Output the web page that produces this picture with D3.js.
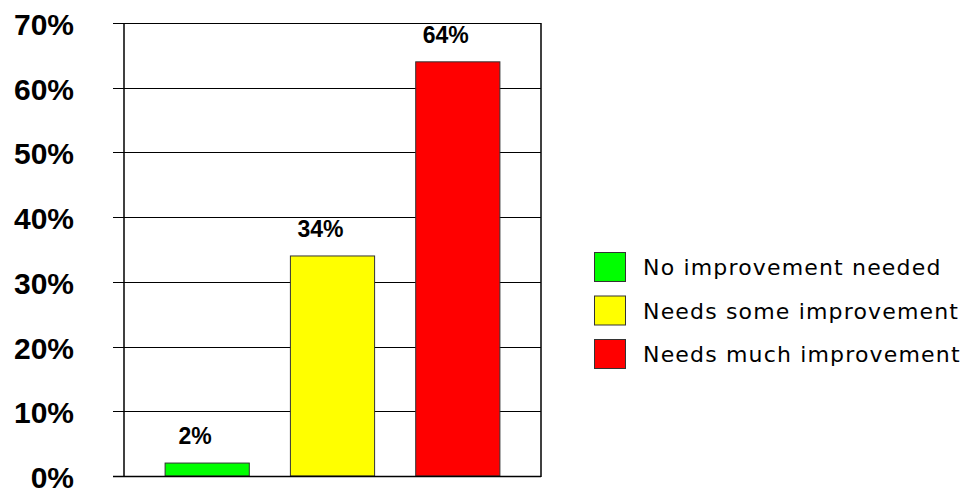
<!DOCTYPE html>
<html>
<head>
<meta charset="utf-8">
<script src="https://cdn.jsdelivr.net/npm/d3@7"></script>
<style>
  html, body { margin: 0; padding: 0; background: #fff; }
  svg { display: block; }
</style>
</head>
<body>
<svg id="chart" width="964" height="493"></svg>
<script>
const categories = ["No improvement needed", "Needs some improvement", "Needs much improvement"];
const values = [2, 34, 64];
const labels = ["2%", "34%", "64%"];
const colors = ["#00ff00", "#ffff00", "#ff0000"];
const tickValues = [0, 10, 20, 30, 40, 50, 60, 70];
const tickLabels = ["0%", "10%", "20%", "30%", "40%", "50%", "60%", "70%"];

(function () {
const svg = d3.select("#chart");
const pLeft = 124, pRight = 541, pTop = 23, pBottom = 476;

const y = d3.scaleLinear().domain([0, 70]).range([pBottom, pTop]);
const x = d3.scaleBand().domain(categories).range([pLeft, pRight])
  .paddingInner(0.328).paddingOuter(0.328);

svg.append("g").selectAll("line").data(tickValues).join("line")
  .attr("x1", pLeft - 11).attr("x2", pRight)
  .attr("y1", d => Math.round(y(d)) + 0.5).attr("y2", d => Math.round(y(d)) + 0.5)
  .attr("stroke", "#000").attr("stroke-width", 1);

svg.append("line").attr("x1", pLeft).attr("x2", pLeft).attr("y1", pTop).attr("y2", pBottom + 1)
  .attr("stroke", "#000").attr("stroke-width", 1.5);
svg.append("line").attr("x1", pRight).attr("x2", pRight).attr("y1", pTop).attr("y2", pBottom + 1)
  .attr("stroke", "#000").attr("stroke-width", 1.5);

svg.append("g").selectAll("text").data(tickValues).join("text")
  .attr("x", 74).attr("y", d => y(d) + 12)
  .attr("text-anchor", "end")
  .attr("font-family", "Liberation Sans, Arial, sans-serif")
  .attr("font-weight", "bold").attr("font-size", 30)
  .attr("fill", "#000")
  .text((d, i) => tickLabels[i]);

svg.append("g").selectAll("rect").data(values).join("rect")
  .attr("x", (d, i) => x(categories[i]))
  .attr("y", d => y(d))
  .attr("width", x.bandwidth())
  .attr("height", d => pBottom - y(d))
  .attr("fill", (d, i) => colors[i])
  .attr("stroke", "#333").attr("stroke-width", 1);

svg.append("line").attr("x1", pLeft - 11).attr("x2", pRight)
  .attr("y1", Math.round(y(0)) + 0.5).attr("y2", Math.round(y(0)) + 0.5)
  .attr("stroke", "#000").attr("stroke-width", 1.5);

svg.append("g").selectAll("text").data(values).join("text")
  .attr("x", (d, i) => x(categories[i]) + x.bandwidth() / 2 - 12)
  .attr("y", d => y(d) - 19)
  .attr("text-anchor", "middle")
  .attr("font-family", "Liberation Sans, Arial, sans-serif")
  .attr("font-weight", "bold").attr("font-size", 23)
  .attr("fill", "#000")
  .text((d, i) => labels[i]);

const lg = svg.append("g");
const rowY = i => 267 + i * 43.5;
lg.selectAll("rect").data(categories).join("rect")
  .attr("x", 594.5).attr("y", (d, i) => rowY(i) - 14.5)
  .attr("width", 31).attr("height", 29)
  .attr("fill", (d, i) => colors[i])
  .attr("stroke", "#333").attr("stroke-width", 1);
const lt = lg.selectAll("text").data(categories).join("text")
  .attr("x", 643).attr("y", (d, i) => rowY(i) + 8)
  .attr("font-family", "DejaVu Sans, Verdana, sans-serif")
  .attr("font-size", 22)
  .attr("fill", "#000")
  .text(d => d);
const base = lt.nodes()[1].getComputedTextLength();
const target = 315;
const ls = (target - base) / (categories[1].length - 1);
lt.attr("letter-spacing", ls);
})();
</script>
</body>
</html>
